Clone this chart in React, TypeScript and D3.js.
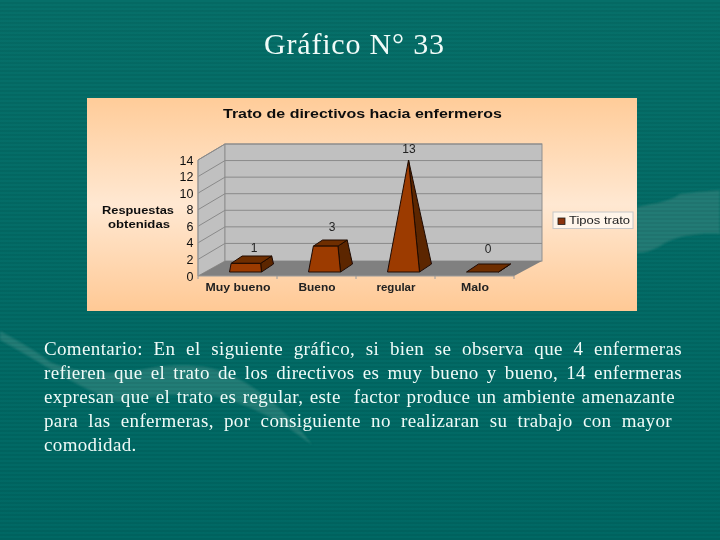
import React from "react";
import * as d3 from "d3";

const categories = ["Muy bueno", "Bueno", "regular", "Malo"];
const values = [1, 3, 13, 0];
const yTicks = [0, 2, 4, 6, 8, 10, 12, 14];
const commentLines = [
  { text: "Comentario: En el siguiente gráfico, si bien se observa que 4 enfermeras", end: 682 },
  { text: "refieren que el trato de los directivos es muy bueno y bueno, 14 enfermeras", end: 682 },
  { text: "expresan que el trato es regular, este  factor produce un ambiente amenazante", end: 675 },
  { text: "para las enfermeras, por consiguiente no realizaran su trabajo con mayor", end: 672 },
  { text: "comodidad.", end: 137 },
];
const W = 720, H = 540;
const depth = { x: 27, y: -15 };
const barDepth = { x: 12, y: -8 };
const x = d3.scaleBand<string>().domain(categories).range([198, 514]);
const y = d3.scaleLinear().domain([0, 14]).range([276, 160]);
const barY = d3.scaleLinear().domain([0, 13]).range([272, 160]);
const line = d3.line();
const pt = (a: number[], b: number[], t: number) => [a[0] + (b[0] - a[0]) * t, a[1] + (b[1] - a[1]) * t] as [number, number];
const LS = 0.35;

function wordSpacing(text: string, width: number, font: string) {
  const c = document.createElement("canvas").getContext("2d")!;
  c.font = font;
  const n = text.split(" ").length - 1;
  return n ? (width - c.measureText(text).width - LS * text.length) / n : 0;
}

function Bar({ cat, v }: { cat: string; v: number }) {
  const x0 = x(cat)! + 31.5, w = 32, yb = barY(0);
  const fl = [x0, yb], fr = [x0 + w, yb];
  const br = [x0 + w + barDepth.x, yb + barDepth.y], bl = [x0 + barDepth.x, yb + barDepth.y];
  const apex = [x0 + 21, barY(13)];
  const t = v / 13;
  const top = [fl, fr, br, bl].map((p) => pt(p, apex, t));
  const [tfl, tfr, tbr, tbl] = top;
  const s = { stroke: "#1e0a02", strokeWidth: 1, strokeLinejoin: "round" as const };
  return (
    <g>
      <path d={line([fr, br, tbr, tfr] as any)! + "Z"} fill="#5c2606" {...s} />
      <path d={line([tfl, tfr, tbr, tbl] as any)! + "Z"} fill="#6e2d05" {...s} />
      {v > 0 && <path d={line([fl, fr, tfr, tfl] as any)! + "Z"} fill="#9c3a00" {...s} />}
    </g>
  );
}

export default function App() {
  const font = "19px 'Liberation Serif'";
  const labelX = [254, 332, 409, 488];
  const labelY = [252, 231, 153, 253];
  const catX = [238, 317, 396, 475];
  const catW = [65, 37, 39, 28];
  return (
    <svg width={W} height={H} viewBox={`0 0 ${W} ${H}`} style={{ position: "absolute", left: 0, top: 0, display: "block" }}>
      <defs>
        <pattern id="scan" width="4" height="4" patternUnits="userSpaceOnUse">
          <rect y="2" width="4" height="2" fill="#000" opacity="0.05" />
        </pattern>
        <linearGradient id="bg" x1="0" x2="0" y1="0" y2="1">
          <stop offset="0" stopColor="#066f69" />
          <stop offset="1" stopColor="#006864" />
        </linearGradient>
        <linearGradient id="panel" x1="0" x2="0" y1="0" y2="1">
          <stop offset="0" stopColor="#ffcc99" />
          <stop offset="0.5" stopColor="#ffe8d2" />
          <stop offset="1" stopColor="#ffc995" />
        </linearGradient>
        <filter id="soft"><feGaussianBlur stdDeviation="0.35" /></filter>
        <filter id="swoosh"><feGaussianBlur stdDeviation="1.2" /></filter>
      </defs>
      <rect width={W} height={H} fill="url(#bg)" />
      <g filter="url(#swoosh)">
        <path d="M0 331 C20 342 38 352 50 362 C75 372 100 374 130 372 C165 364 195 362 225 372 C265 390 295 420 312 445 C280 420 250 405 215 396 C180 392 150 396 118 402 C85 392 40 362 0 340Z" fill="#3f8f88" opacity="0.5" />
        <path d="M637 207 C650 204 670 202 680 194 C695 192 710 191 720 190 L720 234 C700 233 680 235 665 243 C655 250 645 253 637 253Z" fill="#35867f" opacity="0.6" />
      </g>
      <rect width={W} height={H} fill="url(#scan)" />
      <text x={264} y={54} fontFamily="Liberation Serif" fontSize={30} textLength={180} fill="#f0fbf8">Gráfico N° 33</text>
      {commentLines.map((l, i) => (
        <text key={i} x={44} y={355 + i * 24} fontFamily="Liberation Serif" fontSize={19} fill="#f0fbf8" xmlSpace="preserve"
          letterSpacing={LS} wordSpacing={wordSpacing(l.text, l.end - 44, font)}>{l.text}</text>
      ))}
      <g filter="url(#soft)">
        <rect x={87} y={98} width={550} height={213} fill="url(#panel)" />
        <text x={223} y={118} fontFamily="Liberation Sans" fontWeight="bold" fontSize={12.5} textLength={279} lengthAdjust="spacingAndGlyphs" fill="#111">Trato de directivos hacia enfermeros</text>
        <path d={line([[198, 276], [198, 160], [198 + depth.x, 144], [198 + depth.x, 261]] as any)! + "Z"} fill="#c0c0c0" stroke="#8f8f8f" />
        <rect x={225} y={144} width={317} height={117} fill="#c0c0c0" stroke="#8f8f8f" />
        <path d={line([[198, 276], [514, 276], [542, 261], [225, 261]] as any)! + "Z"} fill="#808080" />
        {yTicks.slice(1).map((t) => (
          <path key={t} d={line([[198, y(t)], [225, y(t) - 16], [542, y(t) - 16]] as any)!} fill="none" stroke="#8a8a8a" strokeWidth={1} />
        ))}
        <path d={`M198 ${y(14)}V276H514`} fill="none" stroke="#9a9a9a" strokeWidth={1} />
        {categories.map((c) => <path key={c} d={`M${x(c)} 276v3`} stroke="#9a9a9a" />)}
        <path d="M514 276v3" stroke="#9a9a9a" />
        {yTicks.map((t) => (
          <text key={t} x={193.5} y={y(t) + 4.5} textAnchor="end" fontFamily="Liberation Sans" fontSize={12.5} fill="#111">{t}</text>
        ))}
        <text x={102} y={214} fontFamily="Liberation Sans" fontWeight="bold" fontSize={10.5} textLength={72} lengthAdjust="spacingAndGlyphs" fill="#111">Respuestas</text>
        <text x={108} y={228} fontFamily="Liberation Sans" fontWeight="bold" fontSize={10.5} textLength={62} lengthAdjust="spacingAndGlyphs" fill="#111">obtenidas</text>
        {categories.map((c, i) => <Bar key={c} cat={c} v={values[i]} />)}
        {categories.map((c, i) => (
          <text key={c} x={labelX[i]} y={labelY[i]} textAnchor="middle" fontFamily="Liberation Sans" fontSize={12} fill="#222">{values[i]}</text>
        ))}
        {categories.map((c, i) => (
          <text key={c} x={catX[i] - catW[i] / 2} y={291} textLength={catW[i]} lengthAdjust="spacingAndGlyphs" fontFamily="Liberation Sans" fontWeight="bold" fontSize={11} fill="#222">{c}</text>
        ))}
        <rect x={553} y={212} width={80} height={16.5} fill="#fff5ea" stroke="#c8c8c8" />
        <rect x={558} y={218} width={7} height={6.5} fill="#8a3208" stroke="#222" strokeWidth={0.8} />
        <text x={569} y={224} textLength={61} lengthAdjust="spacingAndGlyphs" fontFamily="Liberation Sans" fontSize={11} fill="#222">Tipos trato</text>
      </g>
    </svg>
  );
}
